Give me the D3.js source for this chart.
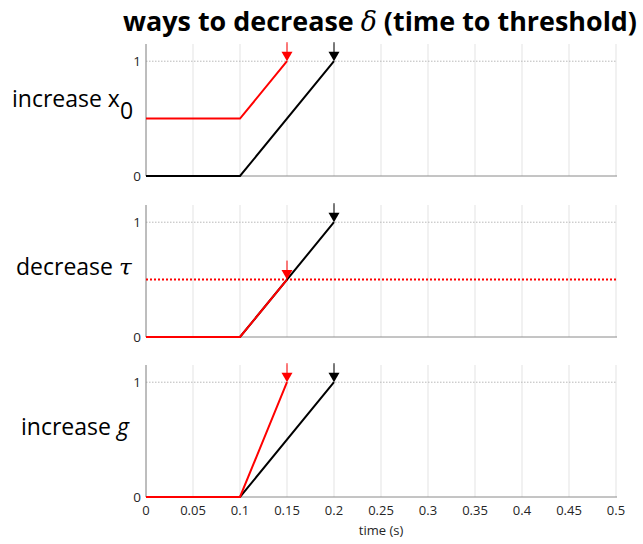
<!DOCTYPE html>
<html>
<head>
<meta charset="utf-8">
<script src="https://cdn.jsdelivr.net/npm/d3@7"></script>
<style>
  html, body { margin: 0; padding: 0; background: #fff; }
  svg { display: block; }
  text { font-family: "Open Sans", "Noto Sans", sans-serif; }
</style>
</head>
<body>
<svg id="chart" width="643" height="544"></svg>
<script>
// Time axis ticks (seconds)
const timeTicks = [0, 0.05, 0.1, 0.15, 0.2, 0.25, 0.3, 0.35, 0.4, 0.45, 0.5];
const yTicks = [0, 1];

// Baseline trace (black): flat until 0.1 s, then rising to threshold 1 at 0.2 s
const baseTrace = [[0, 0], [0.1, 0], [0.2, 1]];
const baseThreshold = 1;

// Modified traces (red), one per panel
const x0Trace = [[0, 0.5], [0.1, 0.5], [0.15, 1]];
const tauTrace = [[0, 0], [0.1, 0], [0.15, 0.5]];
const gTrace = [[0, 0], [0.1, 0], [0.15, 1]];

// Threshold reached by each red trace
const redThresholds = [1, 0.5, 1];
// Whether the red threshold is drawn as its own dotted line
const redThresholdLine = [false, true, false];

const redTraces = [x0Trace, tauTrace, gTrace];

const svg = d3.select("#chart");

const x = d3.scaleLinear().domain([0, 0.5]).range([146, 616]);
const panelTops = [44, 205, 365];
const panelHeight = 132;

// Title
const title = svg.append("text")
  .attr("x", 123).attr("y", 31)
  .attr("font-size", 27).attr("font-weight", "bold")
  .attr("fill", "#000")
  .attr("textLength", 514).attr("lengthAdjust", "spacingAndGlyphs");
title.append("tspan").text("ways to decrease ");
title.append("tspan").attr("font-family", "DejaVu Serif, serif").attr("font-style", "italic")
  .attr("font-weight", "normal").text("δ");
title.append("tspan").text(" (time to threshold)");

panelTops.forEach((top, i) => {
  const bottom = top + panelHeight;
  const y = d3.scaleLinear().domain([0, 1.15]).range([bottom, top]);
  const g = svg.append("g");

  // vertical grid at each time tick
  g.selectAll("line.grid").data(timeTicks).join("line")
    .attr("x1", d => x(d)).attr("x2", d => x(d))
    .attr("y1", top).attr("y2", bottom)
    .attr("stroke", "#e3e3e3").attr("stroke-width", 1);

  // dotted horizontal reference at threshold 1
  g.append("line")
    .attr("x1", x(0)).attr("x2", x(0.5))
    .attr("y1", y(baseThreshold)).attr("y2", y(baseThreshold))
    .attr("stroke", "#b8b8b8").attr("stroke-width", 1).attr("stroke-dasharray", "1.5,1.5");

  // axes lines
  g.append("line").attr("x1", x(0)).attr("x2", x(0))
    .attr("y1", top).attr("y2", bottom).attr("stroke", "#8a8a8a");
  g.append("line").attr("x1", x(0)).attr("x2", x(0.5) + 1)
    .attr("y1", bottom).attr("y2", bottom).attr("stroke", "#8a8a8a");

  // y tick labels
  g.selectAll("text.yt").data(yTicks).join("text")
    .attr("x", 141).attr("y", d => y(d)).attr("dy", "0.35em")
    .attr("text-anchor", "end").attr("font-size", 13.5).attr("fill", "#262626")
    .text(d => d);

  // red dotted threshold
  if (redThresholdLine[i]) {
    g.append("line")
      .attr("x1", x(0)).attr("x2", x(0.5))
      .attr("y1", y(redThresholds[i])).attr("y2", y(redThresholds[i]))
      .attr("stroke", "#ff0000").attr("stroke-width", 2).attr("stroke-dasharray", "2,2");
  }

  const path = d3.line().x(d => x(d[0])).y(d => y(d[1]));

  g.append("path").attr("d", path(baseTrace))
    .attr("fill", "none").attr("stroke", "#000").attr("stroke-width", 2);
  g.append("path").attr("d", path(redTraces[i]))
    .attr("fill", "none").attr("stroke", "#ff0000").attr("stroke-width", 2);

  // threshold-crossing markers: short stem and a downward triangle
  const markers = [
    { pt: baseTrace[baseTrace.length - 1], color: "#000" },
    { pt: redTraces[i][redTraces[i].length - 1], color: "#ff0000" }
  ];
  markers.forEach(m => {
    const mx = x(m.pt[0]), my = y(m.pt[1]);
    g.append("line").attr("x1", mx).attr("x2", mx)
      .attr("y1", my - 19).attr("y2", my - 6)
      .attr("stroke", m.color).attr("stroke-width", 1);
    g.append("path")
      .attr("d", `M${mx - 5.5},${my - 9.5}L${mx + 5.5},${my - 9.5}L${mx},${my}Z`)
      .attr("fill", m.color);
  });

  // x tick labels only on the bottom panel
  if (i === panelTops.length - 1) {
    g.selectAll("text.xt").data(timeTicks).join("text")
      .attr("x", d => x(d)).attr("y", bottom + 18)
      .attr("text-anchor", "middle").attr("font-size", 13).attr("fill", "#262626")
      .text(d => d);
  }
});

// x axis title
svg.append("text").attr("x", x(0.25)).attr("y", 535)
  .attr("text-anchor", "middle").attr("font-size", 13).attr("fill", "#262626")
  .text("time (s)");

// Panel labels
const l1 = svg.append("text").attr("x", 12).attr("y", 107).attr("font-size", 23).attr("fill", "#000");
l1.append("tspan").text("increase x");
l1.append("tspan").attr("dy", 12).text("0");

const l2 = svg.append("text").attr("x", 16).attr("y", 275).attr("font-size", 23).attr("fill", "#000");
l2.append("tspan").text("decrease ");
l2.append("tspan").attr("font-family", "DejaVu Serif, serif").attr("font-style", "italic").text("τ");

const l3 = svg.append("text").attr("x", 21).attr("y", 435).attr("font-size", 23).attr("fill", "#000");
l3.append("tspan").text("increase ");
l3.append("tspan").attr("font-style", "italic").text("g");
</script>
</body>
</html>
